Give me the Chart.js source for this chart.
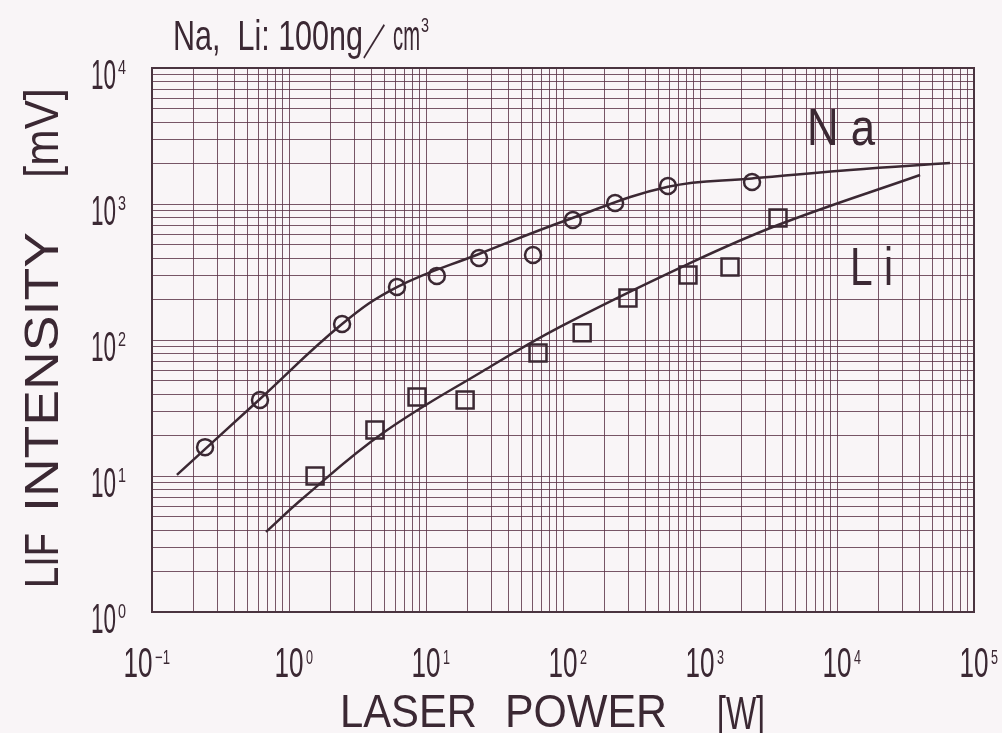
<!DOCTYPE html>
<html>
<head>
<meta charset="utf-8">
<script src="https://cdn.jsdelivr.net/npm/chart.js@4.4.1/dist/chart.umd.min.js"></script>
<style>
body { margin: 0; background: #f9f5f7; }
#wrap { width: 1002px; height: 733px; }
</style>
</head>
<body>
<div id="wrap"><canvas id="lif" width="1002" height="733"></canvas></div>
<script>
// measured LIF signal (mV) vs laser power (W)
var naPower  = [0.244, 0.614, 2.44, 6.14, 12.0, 24.4, 60.4, 118, 240, 584, 2398];
var naSignal = [16.3, 36.2, 131, 245, 296, 401, 422, 763, 1017, 1356, 1452];
var liPower  = [1.55, 4.24, 8.60, 19.3, 65.7, 138, 298, 817, 1656, 3710];
var liSignal = [10.0, 21.8, 38.1, 36.2, 80.2, 113, 204, 301, 344, 789];

// hand drawn fit curves
var naFitPower  = [0.152, 0.614, 2.44, 6.14, 24.4, 112, 584, 2398, 12450, 66800];
var naFitSignal = [10.2, 36.8, 131, 245, 429, 776, 1340, 1540, 1778, 2000];
var liFitPower  = [0.679, 1.27, 4.85, 26.1, 95.1, 817, 3710, 40400];
var liFitSignal = [3.88, 6.89, 20.7, 59.2, 125, 362, 701, 1633];

// axis decades (exponents) and log-paper subdivisions
var xDecades = [-1, 0, 1, 2, 3, 4, 5];
var yDecades = [0, 1, 2, 3, 4];
var subdiv = [1, 2, 3, 4, 5, 6, 7, 8, 9];

var ink = '#3b2833';
var gridInk = 'rgba(90,50,70,0.82)';
var fontFam = '"Liberation Sans", Arial, sans-serif';

function pairs(xs, ys) {
	var out = [];
	for (var i = 0; i < xs.length; i++) out.push({x: xs[i], y: ys[i]});
	return out;
}

function logTicks(decades) {
	var t = [];
	for (var d = 0; d < decades.length; d++) {
		var base = Math.pow(10, decades[d]);
		if (d == decades.length - 1) { t.push({value: base}); break; }
		for (var s = 0; s < subdiv.length; s++) t.push({value: subdiv[s] * base});
	}
	return t;
}

// draws text squeezed/stretched to a given width
function fitText(ctx, txt, x, y, size, w, align) {
	ctx.font = size + 'px ' + fontFam;
	var m = ctx.measureText(txt).width;
	ctx.save();
	ctx.translate(x, y);
	ctx.scale(w / m, 1);
	ctx.textAlign = align || 'left';
	ctx.textBaseline = 'alphabetic';
	ctx.fillText(txt, 0, 0);
	ctx.restore();
}

function expText(e) {
	return e < 0 ? '\u2212' + Math.abs(e) : String(e);
}

var paper = {
	id: 'paper',
	beforeDraw: function(chart) {
		var ctx = chart.ctx;
		ctx.save();
		ctx.fillStyle = '#f9f5f7';
		ctx.fillRect(0, 0, chart.width, chart.height);
		ctx.restore();
	},
	afterDatasetsDraw: function(chart) {
		var ctx = chart.ctx, a = chart.chartArea;
		var xs = chart.scales.x, ys = chart.scales.y;
		ctx.save();
		ctx.strokeStyle = '#4a3440';
		ctx.lineWidth = 2;
		ctx.strokeRect(a.left, a.top, a.right - a.left, a.bottom - a.top);

		ctx.fillStyle = ink;
		// x tick labels
		xDecades.forEach(function(e) {
			var px = xs.getPixelForValue(Math.pow(10, e));
			var shift = e < 0 ? -14 : 0;
			fitText(ctx, '10', px + shift, 677, 42, 29, 'center');
			fitText(ctx, expText(e), px + shift + 17, 664, 20, e < 0 ? 15 : 7, 'left');
		});
		// y tick labels
		yDecades.forEach(function(e) {
			var py = ys.getPixelForValue(Math.pow(10, e));
			fitText(ctx, '10', 116, py + 21, 42, 25, 'right');
			fitText(ctx, expText(e), 118, py + 6, 20, 8, 'left');
		});

		// axis titles
		fitText(ctx, 'LASER', 340, 727, 47, 137, 'left');
		fitText(ctx, 'POWER', 505, 727, 47, 162, 'left');
		fitText(ctx, '[W]', 717, 729, 47, 48, 'left');

		ctx.save();
		ctx.translate(58, 0);
		ctx.rotate(-Math.PI / 2);
		fitText(ctx, 'LIF', -588, 0, 49, 55, 'left');
		fitText(ctx, 'INTENSITY', -512, 0, 49, 280, 'left');
		fitText(ctx, '[mV]', -178, 0, 49, 90, 'left');
		ctx.restore();

		// heading
		fitText(ctx, 'Na,  Li: 100ng', 173, 50, 42, 190, 'left');
		fitText(ctx, '\uFF0F', 362, 52, 40, 27, 'left');
		fitText(ctx, 'cm', 393, 50, 42, 27, 'left');
		fitText(ctx, '3', 421, 32, 20, 8, 'left');

		// curve labels
		fitText(ctx, 'N a', 807, 145, 52, 68, 'left');
		fitText(ctx, 'L i', 850, 285, 53, 43, 'left');
		ctx.restore();
	}
};

var ctx = document.getElementById('lif').getContext('2d');
var chart = new Chart(ctx, {
	type: 'scatter',
	data: {
		datasets: [{
			label: 'Na fit',
			data: pairs(naFitPower, naFitSignal),
			showLine: true,
			borderColor: ink,
			borderWidth: 2.5,
			pointRadius: 0,
			tension: 0.4
		}, {
			label: 'Li fit',
			data: pairs(liFitPower, liFitSignal),
			showLine: true,
			borderColor: ink,
			borderWidth: 2.5,
			pointRadius: 0,
			tension: 0.4
		}, {
			label: 'Na',
			data: pairs(naPower, naSignal),
			pointStyle: 'circle',
			pointRadius: 8,
			pointBorderWidth: 2.5,
			pointBorderColor: ink,
			pointBackgroundColor: 'rgba(0,0,0,0)'
		}, {
			label: 'Li',
			data: pairs(liPower, liSignal),
			pointStyle: 'rect',
			pointRadius: 12,
			pointBorderWidth: 2.5,
			pointBorderColor: ink,
			pointBackgroundColor: 'rgba(0,0,0,0)'
		}]
	},
	options: {
		responsive: false,
		devicePixelRatio: 1,
		animation: false,
		layout: { padding: { left: 152, right: 28, top: 68, bottom: 121 } },
		plugins: {
			legend: { display: false },
			tooltip: { enabled: false }
		},
		scales: {
			x: {
				type: 'logarithmic',
				min: Math.pow(10, xDecades[0]),
				max: Math.pow(10, xDecades[xDecades.length - 1]),
				afterBuildTicks: function(scale) { scale.ticks = logTicks(xDecades); },
				ticks: { display: false },
				grid: { color: gridInk, lineWidth: 1, drawTicks: false },
				border: { display: false }
			},
			y: {
				type: 'logarithmic',
				min: Math.pow(10, yDecades[0]),
				max: Math.pow(10, yDecades[yDecades.length - 1]),
				afterBuildTicks: function(scale) { scale.ticks = logTicks(yDecades); },
				ticks: { display: false },
				grid: { color: gridInk, lineWidth: 1, drawTicks: false },
				border: { display: false }
			}
		}
	},
	plugins: [paper]
});
</script>
</body>
</html>
